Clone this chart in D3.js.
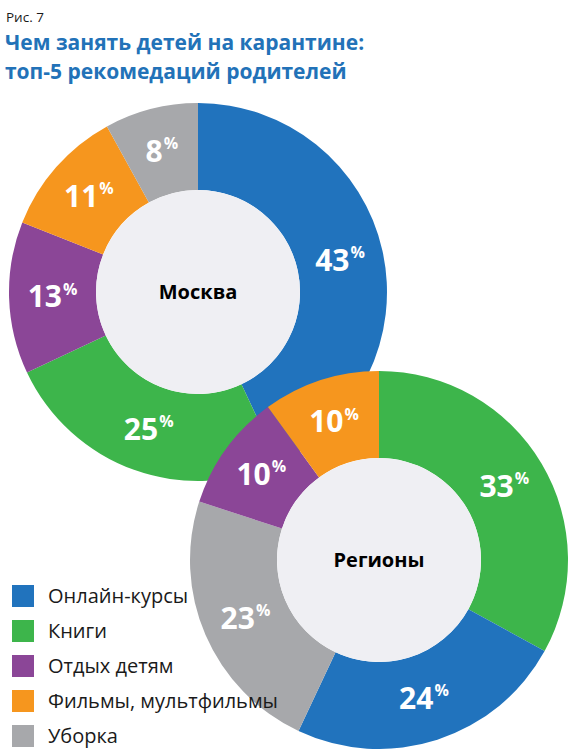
<!DOCTYPE html>
<html>
<head>
<meta charset="utf-8">
<script src="https://cdn.jsdelivr.net/npm/d3@7/dist/d3.min.js"></script>
<style>
  html, body { margin: 0; padding: 0; background: #fff; }
  svg { display: block; }
  text { font-family: "Open Sans", "Noto Sans", sans-serif; }
</style>
</head>
<body>
<svg id="chart" width="570" height="749"></svg>
<script>
// ---- data ----
const figLabel = "Рис. 7";
const titleLines = ["Чем занять детей на карантине:", "топ-5 рекомедаций родителей"];
const categories = ["Онлайн-курсы", "Книги", "Отдых детям", "Фильмы, мультфильмы", "Уборка"];
const categoryColors = ["#2173bd", "#3db54b", "#8b4697", "#f6961e", "#a7a8ab"];

const moscowName = "Москва";
const moscowCategories = ["Онлайн-курсы", "Книги", "Отдых детям", "Фильмы, мультфильмы", "Уборка"];
const moscowValues = [43, 25, 13, 11, 8];

const regionsName = "Регионы";
const regionsCategories = ["Книги", "Онлайн-курсы", "Уборка", "Отдых детям", "Фильмы, мультфильмы"];
const regionsValues = [33, 24, 23, 10, 10];

// ---- drawing ----
const svg = d3.select("#chart");
const color = d3.scaleOrdinal().domain(categories).range(categoryColors);

svg.append("text").attr("x", 6).attr("y", 22)
  .attr("font-size", 13.5).attr("fill", "#1a1a1a").text(figLabel);

svg.selectAll("text.title").data(titleLines).join("text")
  .attr("class", "title")
  .attr("x", 5).attr("y", (d, i) => 50 + i * 29)
  .attr("font-size", 21).attr("font-weight", 700)
  .attr("fill", "#2272b8").text(d => d);

const outerR = 189, innerR = 102;
const pie = d3.pie().sort(null).value(d => d.value);
const arc = d3.arc().innerRadius(innerR).outerRadius(outerR);

function donut(cx, cy, name, cats, vals) {
  const data = cats.map((c, i) => ({ cat: c, value: vals[i] }));
  const g = svg.append("g").attr("transform", `translate(${cx},${cy})`);
  const arcs = pie(data);
  g.selectAll("path").data(arcs).join("path")
    .attr("d", arc).attr("fill", d => color(d.data.cat));
  g.append("circle").attr("r", innerR).attr("fill", "#efeff3");
  g.append("text").attr("text-anchor", "middle").attr("dy", "0.35em")
    .attr("font-size", 20).attr("font-weight", 700).attr("fill", "#000")
    .text(name);
  const lab = g.selectAll("text.pct").data(arcs).join("text")
    .attr("class", "pct")
    .attr("transform", d => { const c = arc.centroid(d); return `translate(${c[0]},${c[1]})`; })
    .attr("text-anchor", "middle").attr("fill", "#fff").attr("font-weight", 700);
  lab.append("tspan").attr("font-size", 30).attr("dy", "0.36em").text(d => d.data.value);
  lab.append("tspan").attr("font-size", 16).attr("dx", 1).attr("dy", "-0.8em").text("%");
}

donut(198, 292, moscowName, moscowCategories, moscowValues);
donut(379, 560, regionsName, regionsCategories, regionsValues);

const leg = svg.append("g");
const items = leg.selectAll("g").data(categories).join("g")
  .attr("transform", (d, i) => `translate(12,${585 + i * 35})`);
items.append("rect").attr("width", 22).attr("height", 22).attr("fill", d => color(d));
items.append("text").attr("x", 36).attr("y", 11).attr("dy", "0.35em")
  .attr("font-size", 20).attr("fill", "#1a1a1a").text(d => d);
</script>
</body>
</html>
